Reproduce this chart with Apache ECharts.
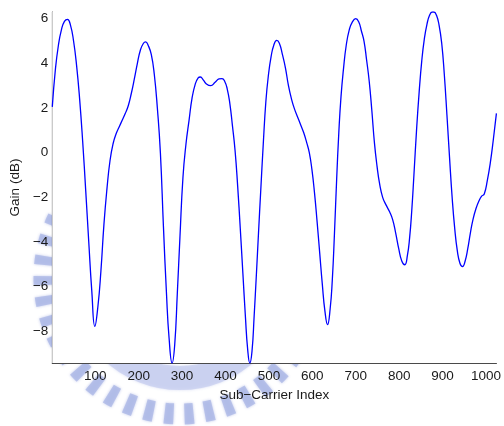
<!DOCTYPE html>
<html>
<head>
<meta charset="utf-8">
<script src="https://cdn.jsdelivr.net/npm/echarts@6/dist/echarts.min.js"></script>
<style>
  html, body { margin: 0; padding: 0; background: #ffffff; }
  #chart { width: 504px; height: 426px; }
</style>
</head>
<body>
<div id="chart"></div>
<script>
// Channel gain per OFDM sub-carrier (dB)
const subCarrier = [
  1, 8, 15, 22, 29, 36, 43, 50, 57, 64, 71, 78, 85, 92, 99, 106, 113, 120, 127, 134,
  141, 148, 155, 162, 169, 176, 183, 190, 197, 204, 211, 216, 222, 229, 236, 243, 250, 257, 264, 270,
  277, 283, 289, 295, 302, 309, 316, 323, 330, 337, 342, 349, 356, 366, 376, 385, 392, 398, 404, 410,
  416, 422, 428, 434, 440, 446, 451, 456, 461, 466, 471, 476, 481, 487, 493, 499, 505, 511, 518, 524,
  531, 538, 545, 552, 559, 566, 573, 580, 587, 593, 599, 605, 611, 617, 623, 629, 635, 641, 646, 651,
  656, 661, 666, 672, 678, 685, 692, 700, 707, 713, 719, 725, 731, 737, 743, 749, 755, 762, 770, 778,
  785, 792, 799, 806, 813, 819, 824, 829, 834, 840, 846, 852, 858, 864, 870, 876, 880, 886, 892, 898,
  904, 910, 916, 922, 928, 934, 940, 946, 952, 958, 964, 970, 977, 984, 990, 996, 1003, 1010, 1017, 1024
];
const gainDb = [
  2.05, 3.7, 4.8, 5.5, 5.88, 5.97, 5.7, 5.0, 3.9, 2.4, 0.5, -1.7, -4.0, -6.2, -7.78, -6.9, -5.3, -3.2, -1.6, -0.35,
  0.4, 0.85, 1.15, 1.45, 1.75, 2.1, 2.65, 3.3, 4.0, 4.6, 4.9, 4.96, 4.8, 4.4, 3.5, 2.0, 0.0, -3.3, -6.3, -8.3,
  -9.42, -8.6, -6.3, -3.8, -1.1, 0.4, 1.45, 2.45, 3.05, 3.35, 3.39, 3.25, 3.08, 3.0, 3.15, 3.3, 3.32, 3.2, 2.85, 2.2,
  1.2, 0.1, -1.5, -3.4, -5.4, -7.4, -8.8, -9.42, -8.9, -7.3, -5.5, -3.6, -1.75, 0.4, 2.3, 3.5, 4.3, 4.8, 5.03, 4.9,
  4.4, 3.8, 3.0, 2.4, 1.95, 1.6, 1.25, 0.9, 0.45, 0.0, -0.75, -1.8, -3.1, -4.5, -5.9, -7.1, -7.7, -7.0, -5.7, -3.6,
  -1.2, 0.9, 2.5, 3.8, 4.8, 5.5, 5.85, 6.0, 5.85, 5.45, 5.0, 4.15, 3.2, 1.9, 0.45, -0.6, -1.4, -2.0, -2.35, -2.65,
  -3.0, -3.6, -4.3, -4.85, -5.02, -4.6, -3.83, -2.6, -1.0, 1.0, 2.7, 4.1, 5.1, 5.75, 6.15, 6.3, 6.3, 6.15, 5.7, 4.9,
  3.5, 1.7, -0.2, -2.0, -3.4, -4.4, -4.95, -5.1, -4.85, -4.3, -3.6, -3.0, -2.5, -2.15, -1.95, -1.85, -1.25, -0.45, 0.6, 1.76
];
const xTicks = [100, 200, 300, 400, 500, 600, 700, 800, 900, 1000];
const yTicks = [-8, -6, -4, -2, 0, 2, 4, 6];

const points = subCarrier.map((x, i) => [x, gainDb[i]]);
const fmt = v => String(v).replace('-', '\u2212');
const textFont = { fontFamily: 'Liberation Sans, Arial, sans-serif', fontSize: 13.5, color: '#1a1a1a' };
const axisColor = '#4a4a4a';

const chart = echarts.init(document.getElementById('chart'), null, { renderer: 'canvas' });

// faint seal printed behind the axes
const sealColor = '#abb7e6';
chart.setOption({
  animation: false,
  backgroundColor: '#ffffff',
  graphic: [
    {
      type: 'arc', z: -10, silent: true,
      shape: { cx: 180, cy: 278, r: 136, startAngle: 0, endAngle: Math.PI * 2 },
      style: { fill: null, stroke: sealColor, lineWidth: 21, lineDash: [9, 11], opacity: 0.75, shadowBlur: 3, shadowColor: sealColor }
    },
    {
      type: 'arc', z: -10, silent: true,
      shape: { cx: 180, cy: 278, r: 100, startAngle: 0, endAngle: Math.PI * 2 },
      style: { fill: null, stroke: '#c3cbee', lineWidth: 24, opacity: 0.65, shadowBlur: 3, shadowColor: '#c3cbee' }
    }
  ],
  grid: {
    left: 52, right: 6, top: 12, bottom: 63,
    show: true, backgroundColor: '#ffffff', borderWidth: 0, z: 2
  },
  xAxis: {
    type: 'value', min: 1, max: 1024,
    name: 'Sub\u2212Carrier Index', nameLocation: 'middle', nameGap: 22,
    nameTextStyle: textFont,
    axisLine: { show: true, onZero: false, lineStyle: { color: axisColor, width: 1.2 } },
    axisTick: { show: true, inside: true, length: 4, customValues: xTicks, lineStyle: { color: axisColor } },
    axisLabel: { show: true, margin: 6, customValues: xTicks, formatter: fmt, ...textFont },
    splitLine: { show: false }
  },
  yAxis: {
    type: 'value', min: -9.42, max: 6.3,
    name: 'Gain (dB)', nameLocation: 'middle', nameGap: 25, nameRotate: 90,
    nameTextStyle: textFont,
    axisLine: { show: true, onZero: false, lineStyle: { color: axisColor, width: 1.2 } },
    axisTick: { show: true, inside: true, length: 4, customValues: yTicks, lineStyle: { color: axisColor } },
    axisLabel: { show: true, margin: 4, customValues: yTicks, formatter: fmt, ...textFont },
    splitLine: { show: false }
  },
  series: [{
    type: 'line',
    data: points,
    smooth: 0.5,
    showSymbol: false,
    clip: true,
    lineStyle: { color: '#0000ff', width: 1.3 },
    z: 5
  }]
});
</script>
</body>
</html>
